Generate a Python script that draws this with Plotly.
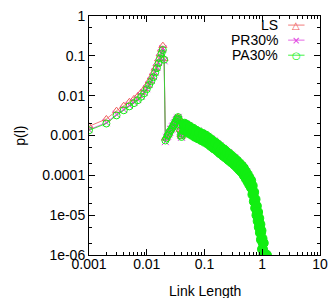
import plotly.graph_objects as go

# ---------------- data ----------------
head_x = [0.001, 0.002, 0.003, 0.004, 0.005, 0.006, 0.007, 0.008, 0.009, 0.010,
          0.011, 0.012, 0.013, 0.014, 0.015, 0.016, 0.017, 0.018, 0.019, 0.020]
bump_x = [0.021, 0.022, 0.023, 0.024, 0.025, 0.026, 0.027, 0.028, 0.029, 0.030,
          0.031, 0.032, 0.033, 0.034, 0.035, 0.036, 0.037, 0.038, 0.039, 0.040,
          0.041, 0.042, 0.043, 0.044]
tail_x = [0.045, 0.047, 0.05, 0.053, 0.056, 0.06, 0.064, 0.068, 0.072, 0.077,
          0.082, 0.088, 0.094, 0.1, 0.106, 0.113, 0.12, 0.128, 0.136, 0.145,
          0.155, 0.165, 0.175, 0.185, 0.2, 0.21, 0.22, 0.23, 0.245, 0.26,
          0.275, 0.29, 0.31, 0.33, 0.35, 0.37, 0.39, 0.41, 0.43, 0.45,
          0.47, 0.49, 0.51, 0.53, 0.55, 0.57, 0.59, 0.61, 0.63, 0.65,
          0.67, 0.69, 0.71, 0.73, 0.75, 0.77, 0.79, 0.81, 0.83, 0.85,
          0.87, 0.89, 0.91, 0.93, 0.95, 0.97, 0.99, 1.01, 1.04, 1.07,
          1.1, 1.14, 1.18]

ls_head = [1.7e-3, 2.6e-3, 4.2e-3, 5.6e-3, 7.0e-3, 8.3e-3, 9.8e-3, 1.2e-2, 1.45e-2, 1.8e-2,
           2.3e-2, 2.9e-2, 3.7e-2, 4.8e-2, 6.2e-2, 8.3e-2, 0.11, 0.145, 0.18, 0.085]
pr_head = [1.4e-3, 2.1e-3, 3.4e-3, 4.5e-3, 5.7e-3, 6.8e-3, 8.0e-3, 9.8e-3, 1.2e-2, 1.5e-2,
           1.9e-2, 2.4e-2, 3.0e-2, 3.9e-2, 5.1e-2, 6.8e-2, 9.0e-2, 0.12, 0.15, 0.075]
pa_head = [1.35e-3, 2.0e-3, 3.2e-3, 4.3e-3, 5.4e-3, 6.5e-3, 7.7e-3, 9.4e-3, 1.15e-2, 1.45e-2,
           1.85e-2, 2.3e-2, 2.9e-2, 3.8e-2, 4.9e-2, 6.5e-2, 8.6e-2, 0.115, 0.14, 0.08]

ls_bump = [8.5e-4, 9.5e-4, 1.05e-3, 1.15e-3, 1.3e-3, 1.45e-3, 1.55e-3, 1.7e-3, 1.85e-3, 2.0e-3,
           2.2e-3, 2.4e-3, 2.6e-3, 2.8e-3, 2.9e-3, 2.6e-3, 2.0e-3, 1.4e-3, 1.05e-3, 9.5e-4,
           1.15e-3, 1.4e-3, 1.7e-3, 1.75e-3]
pr_bump = [7.0e-4, 9.0e-4, 9.5e-4, 1.1e-3, 1.2e-3, 1.4e-3, 1.45e-3, 1.65e-3, 1.75e-3, 1.95e-3,
           2.1e-3, 2.3e-3, 2.5e-3, 2.7e-3, 2.85e-3, 2.5e-3, 1.9e-3, 1.3e-3, 1.0e-3, 9.0e-4,
           1.1e-3, 1.35e-3, 1.65e-3, 1.8e-3]
pa_bump = [7.5e-4, 8.5e-4, 1.0e-3, 1.05e-3, 1.25e-3, 1.35e-3, 1.5e-3, 1.6e-3, 1.8e-3, 1.9e-3,
           2.15e-3, 2.25e-3, 2.55e-3, 2.65e-3, 2.9e-3, 2.55e-3, 1.95e-3, 1.35e-3, 1.0e-3, 9.2e-4,
           1.1e-3, 1.4e-3, 1.7e-3, 1.8e-3]

ls_tail = [1.8e-3, 1.44e-3, 1.64e-3, 1.3e-3, 1.49e-3, 1.17e-3, 1.32e-3, 1.04e-3, 1.19e-3, 9.5e-4,
           1.08e-3, 8.6e-4, 9.8e-4, 7.8e-4, 8.9e-4, 7.0e-4, 7.8e-4, 6.1e-4, 6.8e-4, 5.3e-4,
           5.9e-4, 4.65e-4, 5.2e-4, 4.05e-4, 4.4e-4, 3.5e-4, 4.0e-4, 3.1e-4, 3.5e-4, 2.7e-4,
           3.0e-4, 2.4e-4, 2.6e-4, 2.0e-4, 2.25e-4, 1.73e-4, 1.9e-4, 1.48e-4, 1.65e-4, 1.29e-4,
           1.42e-4, 1.08e-4, 1.17e-4, 8.9e-5, 9.8e-5, 7.5e-5, 8.1e-5, 6.3e-5, 6.9e-5, 5.3e-5,
           5.2e-5, 3.6e-5, 3.5e-5, 2.4e-5, 2.3e-5, 1.66e-5, 1.6e-5, 1.1e-5, 1.1e-5, 7.6e-6,
           7.8e-6, 5.4e-6, 5.5e-6, 3.9e-6, 3.8e-6, 2.6e-6, 2.4e-6, 1.5e-6, 1.2e-6, 1.0e-6,
           1.0e-6, 1.0e-6, 1.0e-6]
pr_tail = [1.5e-3, 1.96e-3, 1.37e-3, 1.76e-3, 1.24e-3, 1.59e-3, 1.1e-3, 1.41e-3, 9.9e-4, 1.29e-3,
           9.0e-4, 1.16e-3, 8.2e-4, 1.06e-3, 7.45e-4, 9.5e-4, 6.5e-4, 8.3e-4, 5.7e-4, 7.25e-4,
           5.0e-4, 6.3e-4, 4.3e-4, 5.5e-4, 3.7e-4, 4.75e-4, 3.3e-4, 4.25e-4, 2.9e-4, 3.7e-4,
           2.5e-4, 3.2e-4, 2.2e-4, 2.76e-4, 1.88e-4, 2.35e-4, 1.6e-4, 2.0e-4, 1.38e-4, 1.75e-4,
           1.19e-4, 1.46e-4, 9.8e-5, 1.21e-4, 8.2e-5, 1.01e-4, 6.8e-5, 8.5e-5, 5.8e-5, 7.25e-5,
           4.3e-5, 4.9e-5, 2.9e-5, 3.25e-5, 1.9e-5, 2.25e-5, 1.33e-5, 1.5e-5, 9.2e-6, 1.04e-5,
           6.5e-6, 7.4e-6, 4.6e-6, 5.25e-6, 3.2e-6, 3.5e-6, 2.0e-6, 2.1e-6, 1.5e-6, 1.0e-6,
           1.0e-6, 1.0e-6, 1.0e-6]
pa_tail = [1.92e-3, 1.33e-3, 1.76e-3, 1.2e-3, 1.59e-3, 1.08e-3, 1.42e-3, 9.6e-4, 1.27e-3, 8.8e-4,
           1.16e-3, 7.9e-4, 1.05e-3, 7.2e-4, 9.6e-4, 6.5e-4, 8.4e-4, 5.65e-4, 7.3e-4, 4.9e-4,
           6.4e-4, 4.3e-4, 5.5e-4, 3.7e-4, 4.7e-4, 3.2e-4, 4.25e-4, 2.9e-4, 3.7e-4, 2.5e-4,
           3.25e-4, 2.2e-4, 2.8e-4, 1.88e-4, 2.4e-4, 1.6e-4, 2.04e-4, 1.37e-4, 1.77e-4, 1.19e-4,
           1.52e-4, 9.9e-5, 1.25e-4, 8.2e-5, 1.05e-4, 6.9e-5, 8.7e-5, 5.8e-5, 7.4e-5, 4.9e-5,
           5.5e-5, 3.3e-5, 3.8e-5, 2.2e-5, 2.5e-5, 1.5e-5, 1.7e-5, 1.0e-5, 1.2e-5, 7.1e-6,
           8.4e-6, 5.0e-6, 5.9e-6, 3.6e-6, 4.1e-6, 2.4e-6, 2.6e-6, 1.4e-6, 2.0e-6, 1.0e-6,
           1.0e-6, 1.0e-6, 1.0e-6]

series_names = ["LS", "PR30%", "PA30%"]
x_ticks = [0.001, 0.01, 0.1, 1, 10]
x_tick_labels = ["0.001", "0.01", "0.1", "1", "10"]
y_ticks = [1, 0.1, 0.01, 0.001, 0.0001, 1e-05, 1e-06]
y_tick_labels = ["1", "0.1", "0.01", "0.001", "0.0001", "1e-05", "1e-06"]

# ---------------- styles ----------------
colors = ["#ee5a5a", "#e040e0", "#11ee11"]
n_front = len(head_x) + len(bump_x)
n_tail = len(tail_x)
# the dense tail of the reference merges into a solid band of markers
symbols = [
    "triangle-up-open",
    "x-thin-open",
    ["circle-open"] * n_front + ["circle"] * n_tail,
]
sizes = [7, 7, [7] * n_front + [10] * n_tail]

all_x = head_x + bump_x + tail_x
ys = [ls_head + ls_bump + ls_tail,
      pr_head + pr_bump + pr_tail,
      pa_head + pa_bump + pa_tail]

fig = go.Figure()
for name, y, c, s, sz in zip(series_names, ys, colors, symbols, sizes):
    fig.add_trace(go.Scatter(
        x=all_x, y=y, name=name, mode="lines+markers",
        line=dict(color=c, width=0.8),
        marker=dict(symbol=s, size=sz, color=c, opacity=1, line=dict(color=c, width=1)),
        showlegend=False,
    ))

FONT = "Liberation Sans, Arial, sans-serif"

x_minor = [k * 10 ** e for e in range(-3, 1) for k in range(2, 10)]
y_minor = [k * 10 ** e for e in range(-6, 0) for k in (2, 5)]

fig.update_xaxes(
    type="log", range=[-3, 1],
    tickvals=x_ticks, ticktext=x_tick_labels,
    ticks="inside", ticklen=6, tickwidth=1, tickcolor="#000",
    showline=True, linecolor="#000", linewidth=1, mirror="ticks",
    showgrid=False, zeroline=False, ticklabelstandoff=-4,
    minor=dict(tickvals=x_minor, ticks="inside", ticklen=3, tickcolor="#000", showgrid=False),
    tickfont=dict(family=FONT, size=14, color="#000"),
)
fig.update_yaxes(
    type="log", range=[-6, 0],
    tickvals=y_ticks, ticktext=y_tick_labels,
    ticks="inside", ticklen=6, tickwidth=1, tickcolor="#000",
    showline=True, linecolor="#000", linewidth=1, mirror="ticks",
    showgrid=False, zeroline=False,
    minor=dict(tickvals=y_minor, ticks="inside", ticklen=3, tickcolor="#000", showgrid=False),
    tickfont=dict(family=FONT, size=14, color="#000"),
)

# gnuplot-style key: label on the left, sample on the right
key_y = [0.962, 0.899, 0.836]
key_glyph = ["\u25b3", "\u00d7", "\u25cb"]
annotations = [
    dict(text="p(l)", x=-0.345, y=0.5, xref="paper", yref="paper", textangle=-90,
         showarrow=False, font=dict(family=FONT, size=14, color="#000")),
    dict(text="Link Length", x=0.5, y=-0.151, xref="paper", yref="paper",
         showarrow=False, yanchor="middle", font=dict(family=FONT, size=14, color="#000")),
]
shapes = []
for name, c, g, ky in zip(series_names, colors, key_glyph, key_y):
    annotations.append(dict(text=name, x=0.826, y=ky, xref="paper", yref="paper",
                            xanchor="right", yanchor="middle", showarrow=False,
                            font=dict(family=FONT, size=14, color="#000")))
    annotations.append(dict(text=g, x=0.898, y=ky, xref="paper", yref="paper",
                            xanchor="center", yanchor="middle", showarrow=False,
                            font=dict(family="DejaVu Sans", size=10, color=c)))
    shapes.append(dict(type="line", xref="paper", yref="paper", x0=0.862, x1=0.933,
                       y0=ky, y1=ky, line=dict(color=c, width=0.8)))

fig.update_layout(
    width=336, height=298,
    margin=dict(l=89, r=8, t=16, b=43),
    paper_bgcolor="white", plot_bgcolor="white",
    showlegend=False,
    annotations=annotations, shapes=shapes,
)

fig.write_html("out.html")
